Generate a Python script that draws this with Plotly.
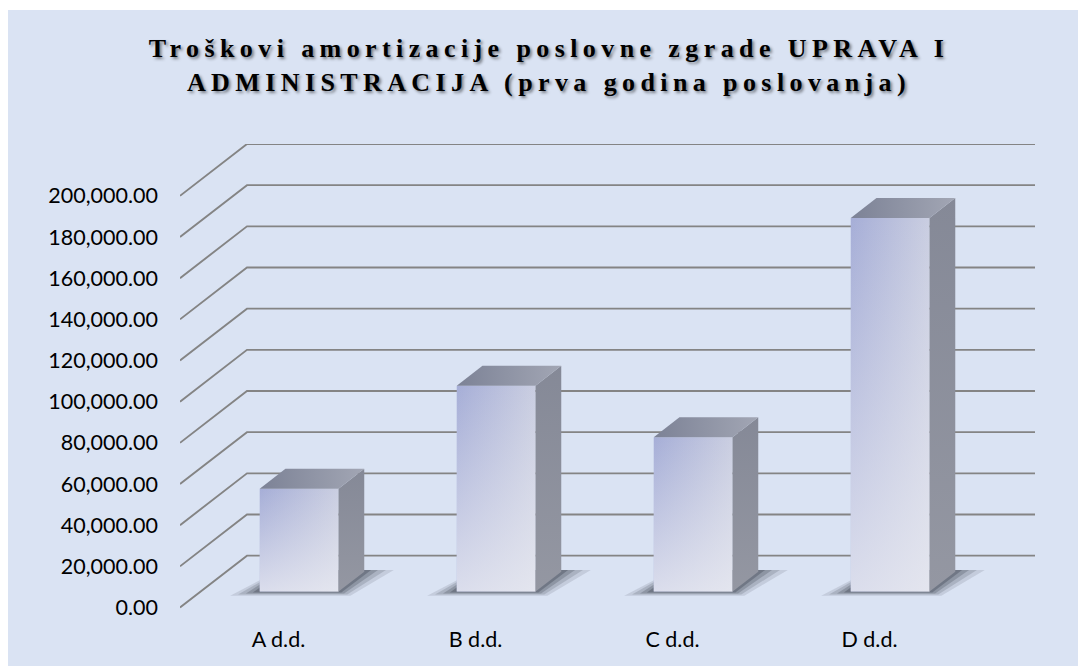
import plotly.graph_objects as go

# ---- data ----
categories = ["A d.d.", "B d.d.", "C d.d.", "D d.d."]
values = [50000, 100000, 75000, 181500]
y_ticks = [0, 20000, 40000, 60000, 80000, 100000, 120000, 140000, 160000, 180000, 200000]
title_text = "Troškovi amortizacije poslovne zgrade UPRAVA I<br>ADMINISTRACIJA (prva godina poslovanja)"

# ---- 3D projection parameters (layout, not data) ----
W, H = 1078, 666
ML, MR, MT, MB = 180, 43, 144, 42
DX = 0.34          # depth offset along x (category units)
DY = 25200         # depth offset along y (value units)
X_MIN, X_MAX = -0.5, len(categories) - 0.5 + DX
Y_MIN, Y_MAX = -8000, 200000 + DY
BAR_W = 0.40
DF, DB = 0.308, 0.692   # bar front / back depth fractions

BG = "#DAE3F3"
GRID = "#848484"

fig = go.Figure()

# ---- gridlines: diagonal (floor/side) + back wall ----
gx, gy = [], []
for v in y_ticks:
    gx += [X_MIN, X_MIN + DX, X_MAX, None]
    gy += [v, v + DY, v + DY, None]
fig.add_trace(go.Scatter(x=gx, y=gy, mode="lines", line=dict(color=GRID, width=1.9),
                         hoverinfo="skip", showlegend=False))


def poly(xs, ys, **kw):
    fig.add_trace(go.Scatter(x=xs + [xs[0]], y=ys + [ys[0]], mode="lines", fill="toself",
                             line=dict(width=0, color="rgba(0,0,0,0)"),
                             hoverinfo="skip", showlegend=False, **kw))


for i, v in enumerate(values):
    c = i
    xl = c - BAR_W / 2
    xr = c + BAR_W / 2
    fx0, fx1 = xl + DF * DX, xr + DF * DX
    bx0, bx1 = xl + DB * DX, xr + DB * DX
    fy0, by0 = DF * DY, DB * DY
    # shadow (blurred look by layering)
    for e, a in [(0.15, 0.12), (0.11, 0.16), (0.07, 0.22), (0.035, 0.28)]:
        poly([fx0 - e, fx1 + e * 0.4, bx1 + e, bx0 - e * 0.2],
             [fy0 - 2000 * (e / 0.15), fy0 - 2000 * (e / 0.15), by0 + 800, by0 + 800],
             fillcolor=f"rgba(40,44,58,{a})")
    # front face
    poly([fx0, fx1, fx1, fx0], [fy0, fy0, fy0 + v, fy0 + v],
         fillgradient=dict(type="horizontal", start=fx0, stop=fx1,
                           colorscale=[[0, "#A6AED7"], [1, "#CACEE1"]]))
    poly([fx0, fx1, fx1, fx0], [fy0, fy0, fy0 + v, fy0 + v],
         fillgradient=dict(type="vertical", start=fy0, stop=fy0 + v,
                           colorscale=[[0, "rgba(236,237,243,0.75)"], [1, "rgba(236,237,243,0)"]]))
    # side face
    poly([fx1, bx1, bx1, fx1], [fy0, by0, by0 + v, fy0 + v],
         fillgradient=dict(type="vertical", start=fy0, stop=by0 + v,
                           colorscale=[[0, "#9497A2"], [1, "#858997"]]))
    # top face
    poly([fx0, fx1, bx1, bx0], [fy0 + v, fy0 + v, by0 + v, by0 + v],
         fillgradient=dict(type="horizontal", start=fx0, stop=bx1,
                           colorscale=[[0, "#7C8296"], [1, "#A2A6B4"]]))

pw = W - ML - MR
ph = H - MT - MB


def px2x(p):
    return (p - ML) / pw


def py2y(p):
    return (H - MB - p) / ph


shapes = [
    dict(type="rect", xref="paper", yref="paper", x0=px2x(-5), x1=px2x(8), y0=py2y(H + 5), y1=py2y(-5),
         fillcolor="white", line=dict(width=0), layer="below"),
    dict(type="rect", xref="paper", yref="paper", x0=px2x(-5), x1=px2x(W + 5), y0=py2y(10), y1=py2y(-5),
         fillcolor="white", line=dict(width=0), layer="below"),
]

fig.update_layout(
    width=W, height=H,
    margin=dict(l=ML, r=MR, t=MT, b=MB),
    paper_bgcolor=BG, plot_bgcolor=BG,
    shapes=shapes,
    title=dict(text=title_text, x=549 / W, xanchor="center", xref="container",
               y=1 - 57 / H, yanchor="middle", yref="container",
               font=dict(family="Liberation Serif", size=26, color="#000000", weight="bold",
                         shadow="2px 2px 3px rgba(0,0,0,0.45)")),
    xaxis=dict(range=[X_MIN, X_MAX], showgrid=False, zeroline=False, showline=False,
               tickmode="array", tickvals=list(range(len(categories))), ticktext=categories,
               tickfont=dict(family="Lato", size=21.5, color="#000000"), ticks="", fixedrange=True),
    yaxis=dict(range=[Y_MIN, Y_MAX], showgrid=False, zeroline=False, showline=False,
               tickmode="array", tickvals=y_ticks, tickformat=",.2f",
               tickfont=dict(family="Lato", size=21.5, color="#000000"), ticks="",
               ticklabelstandoff=21, fixedrange=True),
    showlegend=False,
)

post = ("var s=document.createElement('style');"
        "s.innerHTML='html,body{margin:0;padding:0;overflow:hidden;} .gtitle{letter-spacing:5.4px;}';"
        "document.head.appendChild(s);")
fig.write_html("out.html", post_script=post, config={"displayModeBar": False})
